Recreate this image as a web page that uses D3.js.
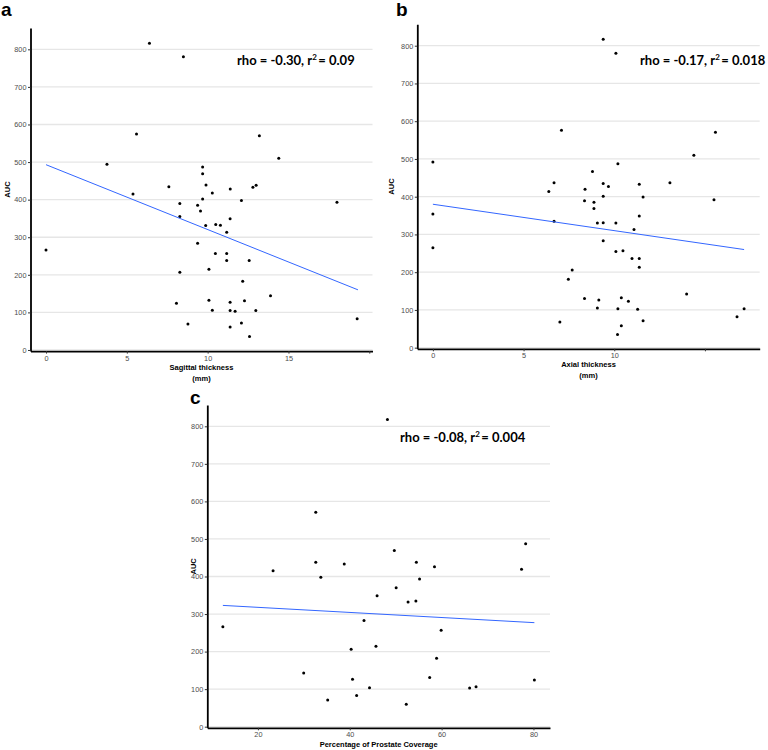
<!DOCTYPE html>
<html>
<head>
<meta charset="utf-8">
<script src="https://cdn.jsdelivr.net/npm/d3@7"></script>
<style>
  html, body { margin: 0; padding: 0; background: #fff; }
  svg { display: block; }
</style>
</head>
<body>
<svg id="chart" width="768" height="750"></svg>
<script>
// ---------------- DATA ----------------
const aucTicks = [0, 100, 200, 300, 400, 500, 600, 700, 800];

// Panel a: Sagittal thickness (mm) vs AUC
const sagittalX = [6.4, 8.5, 5.6, 3.77, 7.6, 13.2, 14.4, 9.69, 9.69, 9.9, 11.4, 12.8, 13.0, 5.38, 8.28, 9.38, 9.56, 8.28, 9.38, 0, 8.28, 8.07, 8.78, 10.29, 9.69, 12.09, 18.0, 11.39, 9.88, 10.5, 10.79, 11.18, 10.48, 11.18, 11.18, 12.57, 10.08, 12.17, 13.89, 10.08, 11.39, 12.28, 10.29, 11.39, 11.70, 12.98, 19.25, 12.09, 11.39, 12.59];
const sagittalAUC = [816, 780, 575, 494, 434, 570, 510, 487, 469, 439, 428, 433, 438, 415, 390, 385, 370, 355, 284, 266, 207, 124, 69, 418, 402, 398, 393, 349, 331, 334, 332, 313, 257, 257, 238, 238, 215, 183, 144, 132, 127, 131, 106, 105, 103, 105, 83, 72, 61, 36];
const sagittalFitX = [0, 19.3];
const sagittalFitY = [493, 160];
const sagittalTicks = [0, 5, 10, 15, 20];
const sagittalTickLabels = ["0", "5", "10", "15", ""];

// Panel b: Axial thickness (mm) vs AUC
const axialX = [0, 7.09, 6.68, 9.39, 10.09, 15.58, 14.39, 10.2, 8.8, 9.39, 9.68, 11.38, 13.07, 8.39, 6.39, 8.36, 0, 6.68, 0, 7.68, 7.47, 8.36, 7.0, 9.39, 11.59, 15.5, 8.88, 8.88, 11.38, 9.07, 9.39, 10.09, 11.09, 9.39, 10.09, 10.48, 10.98, 11.38, 11.38, 9.15, 10.39, 10.78, 13.99, 9.07, 10.2, 11.29, 17.16, 16.77, 11.59, 10.39, 10.18];
const axialAUC = [492, 576, 437, 817, 780, 571, 510, 487, 467, 435, 427, 433, 437, 420, 414, 389, 354, 335, 265, 206, 181, 130, 68, 401, 399, 392, 385, 369, 349, 330, 331, 330, 313, 283, 255, 257, 236, 236, 213, 126, 132, 123, 142, 105, 103, 102, 103, 82, 71, 58, 35];
const axialFitX = [0, 17.16];
const axialFitY = [380, 260];
const axialTicks = [0, 5, 10, 15];
const axialTickLabels = ["0", "5", "10", ""];

// Panel c: Percentage of prostate coverage vs AUC
const coverageX = [48.2, 32.6, 32.6, 38.8, 78.3, 49.7, 54.5, 23.3, 33.7, 45.95, 12.37, 43.1, 40.3, 45.7, 29.97, 40.6, 44.3, 41.5, 35.2, 58.45, 77.4, 55.2, 50.1, 52.7, 54.4, 59.9, 58.9, 57.4, 80.2, 66.1, 67.5, 52.3];
const coverageAUC = [818, 571, 438, 433, 487, 469, 438, 415, 398, 349, 266, 283, 206, 214, 143, 126, 104, 83, 71, 426, 419, 393, 370, 332, 335, 257, 182, 131, 124, 103, 106, 60];
const coverageFitX = [12.37, 80.2];
const coverageFitY = [323, 277];
const coverageTicks = [20, 40, 60, 80];
const coverageTickLabels = ["20", "40", "60", "80"];

// ---------------- DRAW ----------------
const svg = d3.select("#chart");
svg.append("rect").attr("width", 768).attr("height", 750).attr("fill", "#fff");

const tickFont = "'Liberation Sans', Arial, sans-serif";
const annFont = "Lato, 'Open Sans', sans-serif";

function panel(cfg) {
  const g = svg.append("g");
  const x = d3.scaleLinear().domain(cfg.xDomain).range(cfg.xRange);
  const y = d3.scaleLinear().domain([-3, 857]).range(cfg.yRange);

  // gridlines
  g.selectAll("line.grid").data(aucTicks).join("line")
    .attr("class", "grid")
    .attr("x1", cfg.xRange[0]).attr("x2", cfg.xRange[1])
    .attr("y1", d => y(d)).attr("y2", d => y(d))
    .attr("stroke", "#e6e6e6").attr("stroke-width", 1.3);

  // y axis
  const ya = g.append("g").attr("transform", `translate(${cfg.xRange[0]},0)`)
    .call(d3.axisLeft(y).tickValues(aucTicks).tickSize(2.5).tickSizeOuter(0).tickPadding(1.5));
  // x axis
  const xa = g.append("g").attr("transform", `translate(0,${cfg.yRange[0]})`)
    .call(d3.axisBottom(x).tickValues(cfg.ticks).tickFormat((d, i) => cfg.tickLabels[i])
      .tickSize(2.5).tickSizeOuter(0).tickPadding(2));
  [ya, xa].forEach(a => {
    a.select(".domain").attr("stroke", "#000").attr("stroke-width", 1.8);
    a.selectAll(".tick line").attr("stroke", "#333").attr("stroke-width", 1);
    a.selectAll(".tick text").attr("fill", "#4d4d4d")
      .attr("font-family", tickFont).attr("font-size", 7.3);
  });

  // points
  g.selectAll("circle").data(cfg.xs.map((d, i) => [d, cfg.ys[i]])).join("circle")
    .attr("cx", d => x(d[0])).attr("cy", d => y(d[1])).attr("r", 1.5)
    .attr("fill", "#000");

  // fit line
  const fit = cfg.fitX.map((d, i) => [d, cfg.fitY[i]]);
  g.append("path").datum(fit)
    .attr("d", d3.line().x(d => x(d[0])).y(d => y(d[1])))
    .attr("fill", "none").attr("stroke", "#3366FF").attr("stroke-width", 1);

  // axis titles
  g.append("text")
    .attr("transform", `translate(${cfg.yTitleX},${(cfg.yRange[0] + cfg.yRange[1]) / 2}) rotate(-90)`)
    .attr("text-anchor", "middle").attr("font-family", tickFont).attr("font-weight", "bold")
    .attr("font-size", 7.5).attr("fill", "#000").text("AUC");
  const cx = (cfg.xRange[0] + cfg.xRange[1]) / 2;
  cfg.xTitle.forEach((t, i) => {
    g.append("text").attr("x", cx).attr("y", cfg.xTitleY + i * 10.5)
      .attr("text-anchor", "middle").attr("font-family", tickFont).attr("font-weight", "bold")
      .attr("font-size", 7.5).attr("fill", "#000").text(t);
  });

  // annotation
  const ann = g.append("text").attr("x", cfg.annX).attr("y", cfg.annY)
    .attr("font-family", annFont).attr("font-weight", "bold").attr("font-size", 13)
    .attr("fill", "#000");
  ann.append("tspan").text(cfg.ann[0]);
  ann.append("tspan").attr("dy", -5).attr("font-size", 8).text("2");
  ann.append("tspan").attr("dy", 5).attr("dx", 1.5).text(cfg.ann[1]);

  // panel label
  g.append("text").attr("x", cfg.labelX).attr("y", cfg.labelY)
    .attr("font-family", "'Liberation Sans', Arial, sans-serif").attr("font-weight", "bold")
    .attr("font-size", 19).attr("fill", "#000").text(cfg.label);
}

panel({
  xs: sagittalX, ys: sagittalAUC, fitX: sagittalFitX, fitY: sagittalFitY,
  xDomain: [-0.96, 20.2], xRange: [30.5, 372.5], yRange: [351.1, 27.9],
  ticks: sagittalTicks, tickLabels: sagittalTickLabels,
  yTitleX: 10, xTitle: ["Sagittal thickness", "(mm)"], xTitleY: 370,
  ann: ["rho = -0.30, r", "= 0.09"], annX: 237, annY: 65,
  label: "a", labelX: 1, labelY: 16
});
panel({
  xs: axialX, ys: axialAUC, fitX: axialFitX, fitY: axialFitY,
  xDomain: [-0.86, 18.02], xRange: [417.3, 759.7], yRange: [348.8, 24.2],
  ticks: axialTicks, tickLabels: axialTickLabels,
  yTitleX: 394, xTitle: ["Axial thickness", "(mm)"], xTitleY: 367,
  ann: ["rho = -0.17, r", "= 0.018"], annX: 640, annY: 65,
  label: "b", labelX: 396, labelY: 16
});
panel({
  xs: coverageX, ys: coverageAUC, fitX: coverageFitX, fitY: coverageFitY,
  xDomain: [8.98, 83.6], xRange: [207.3, 550], yRange: [727.8, 404.9],
  ticks: coverageTicks, tickLabels: coverageTickLabels,
  yTitleX: 196, xTitle: ["Percentage of Prostate Coverage"], xTitleY: 747,
  ann: ["rho = -0.08, r", "= 0.004"], annX: 400, annY: 442,
  label: "c", labelX: 190, labelY: 404
});
</script>
</body>
</html>
